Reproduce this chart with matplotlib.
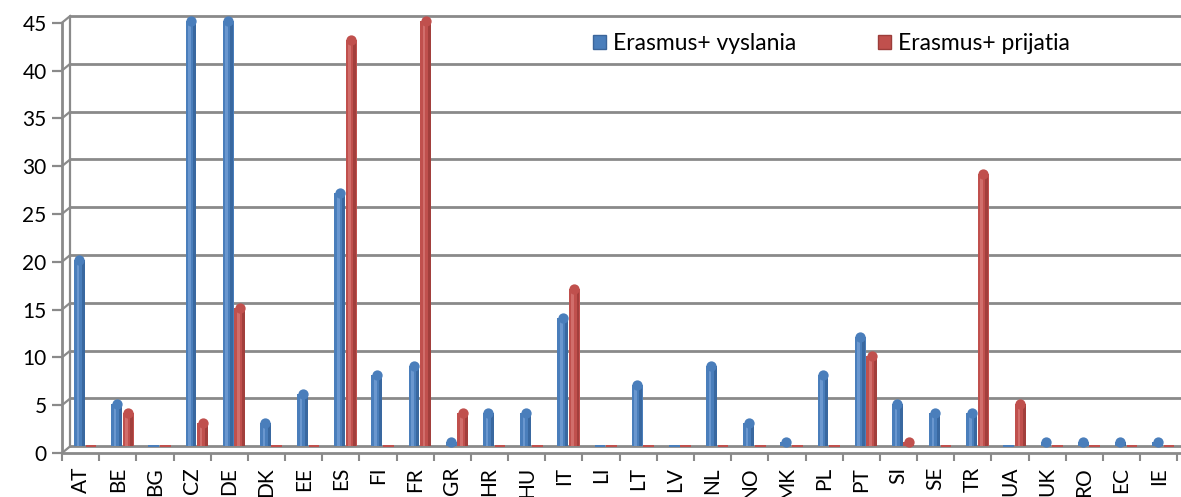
import numpy as np
import matplotlib
matplotlib.use("Agg")
from matplotlib import pyplot as plt
from matplotlib.patches import Patch

plt.rcParams['font.family'] = ['Lato', 'DejaVu Sans']

countries = ['AT', 'BE', 'BG', 'CZ', 'DE', 'DK', 'EE', 'ES', 'FI', 'FR',
             'GR', 'HR', 'HU', 'IT', 'LI', 'LT', 'LV', 'NL', 'NO', 'MK',
             'PL', 'PT', 'SI', 'SE', 'TR', 'UA', 'UK', 'RO', 'EC', 'IE']
vyslania = [20, 5, 0, 45, 45, 3, 6, 27, 8, 9,
            1, 4, 4, 14, 0, 7, 0, 9, 3, 1,
            8, 12, 5, 4, 4, 0, 1, 1, 1, 1]
prijatia = [0, 4, 0, 3, 15, 0, 0, 43, 0, 45,
            4, 0, 0, 17, 0, 0, 0, 0, 0, 0,
            0, 10, 1, 0, 29, 5, 0, 0, 0, 0]
y_ticks = [0, 5, 10, 15, 20, 25, 30, 35, 40, 45]

W, H = 1181, 497
fig = plt.figure(figsize=(W / 100, H / 100), dpi=100)
ax = fig.add_axes([62 / W, (H - 453) / H, 1119 / W, 437 / H])
ax.set_xlim(-0.5, 29.6)
ax.set_ylim(-0.55, 45)

grid_c = '#8a8a8a'
# back wall gridlines with small 3d step at the left
for v in y_ticks:
    ax.plot([-0.28, 29.6], [v, v], color=grid_c, lw=2.0, zorder=1, clip_on=False)
    ax.plot([-0.5, -0.28], [v - 0.7, v], color=grid_c, lw=1.6, zorder=1, clip_on=False)
ax.plot([-0.28, -0.28], [0, 45], color=grid_c, lw=1.6, zorder=1)

x = np.arange(len(countries))
bw = 0.29
r = 0.55  # cap radius in data units


def cylinders(xpos, vals, col, dark, light):
    vals = np.array(vals, dtype=float)
    nz = vals > 0
    ax.bar(xpos[nz], vals[nz] - r, width=bw, color=col, linewidth=0, zorder=3)
    ax.bar(xpos[nz] + 0.1, vals[nz] - r, width=0.08, color=dark,
           linewidth=0, alpha=0.6, zorder=4)
    ax.bar(xpos[nz] - 0.04, vals[nz] - r, width=0.07, color=light,
           linewidth=0, alpha=0.6, zorder=4)
    ax.scatter(xpos[nz], vals[nz] - r, s=55, color=col, linewidths=0, zorder=5)
    ax.bar(xpos[~nz], 0.25, bottom=-0.1, width=bw, color=col, linewidth=0, zorder=3)


cylinders(x - 0.03, vyslania, '#4a7ebb', '#2f5a8f', '#80a9dd')
cylinders(x + 0.28, prijatia, '#c0504d', '#8f3432', '#dd8380')

for s in ['top', 'right']:
    ax.spines[s].set_visible(False)
ax.spines['left'].set_color(grid_c)
ax.spines['left'].set_linewidth(2)
ax.spines['left'].set_bounds(-0.55, 44.3)
ax.spines['bottom'].set_color(grid_c)
ax.spines['bottom'].set_linewidth(2)

ax.set_yticks(np.array(y_ticks) - 0.7, [str(v) for v in y_ticks])
ax.tick_params(axis='y', length=7, width=1.6, color=grid_c, labelsize=15, pad=4)

ax.set_xticks(x, countries, rotation=90, va='top')
ax.set_xticks(np.arange(-0.5, 29.6, 1), minor=True)
ax.tick_params(axis='x', which='major', length=0, labelsize=15, pad=10)
ax.tick_params(axis='x', which='minor', length=5.5, width=1.5, color=grid_c)

handles = [Patch(facecolor='#4a7ebb', edgecolor='#3b659a'),
           Patch(facecolor='#c0504d', edgecolor='#9c3d3a')]
ax.legend(handles, ['Erasmus+ vyslania', 'Erasmus+ prijatia'], ncol=2,
          loc='center left', bbox_to_anchor=(584 / W, 1 - 44 / H),
          bbox_transform=fig.transFigure, frameon=False, fontsize=16.5,
          handlelength=0.55, handleheight=0.55, handletextpad=0.3,
          columnspacing=3.6, borderaxespad=0)

fig.savefig('out.png', dpi=100)
